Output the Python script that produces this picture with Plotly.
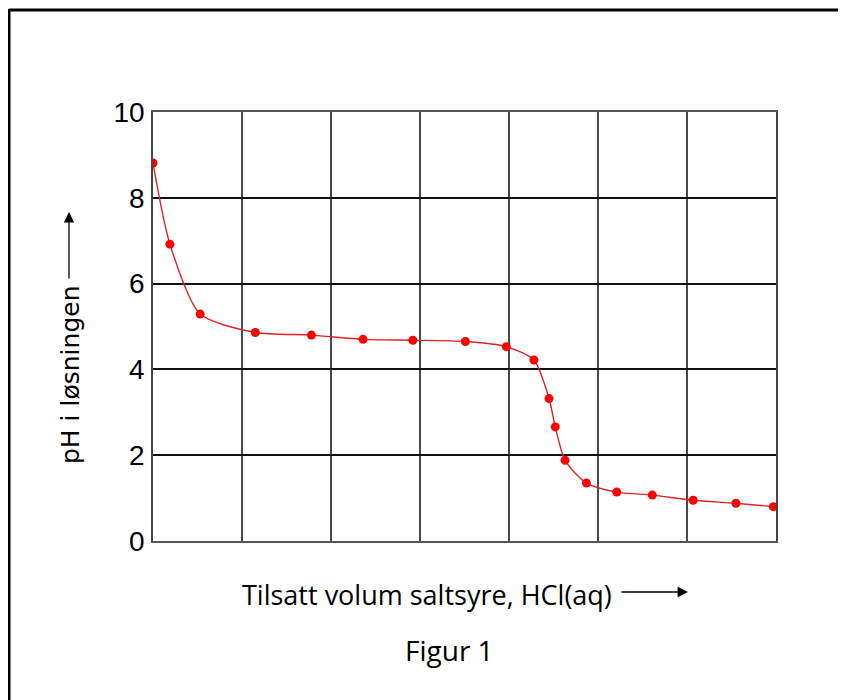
import plotly.graph_objects as go

# Data (x in grid units of added HCl volume, pH)
volum = [0.0, 0.19, 0.53, 1.15, 1.78, 2.36, 2.92, 3.51, 3.97, 4.28,
         4.45, 4.52, 4.63, 4.87, 5.21, 5.61, 6.07, 6.55, 6.97]
ph = [8.81, 6.92, 5.29, 4.86, 4.80, 4.70, 4.68, 4.65, 4.53, 4.22,
      3.32, 2.66, 1.88, 1.35, 1.14, 1.07, 0.95, 0.88, 0.80]
y_ticks = [0, 2, 4, 6, 8, 10]

OFF = 8  # page body margin
W, H = 846 - OFF, 700 - OFF
# plot area in page pixels: x 153..776, y 112..541
L, T = 153 - OFF, 112 - OFF
R = W - (776 - OFF)
B = H - (541 - OFF)
PW, PH = W - L - R, H - T - B


def px(xp):
    return (xp - OFF - L) / PW


def py(yp):
    return (H - B - (yp - OFF)) / PH


fig = go.Figure()
fig.add_trace(go.Scatter(
    x=volum, y=ph, mode="lines",
    line=dict(color="#dc2424", width=1.4, shape="spline", smoothing=0.7),
    hoverinfo="skip", showlegend=False))
fig.add_trace(go.Scatter(
    x=volum, y=ph, mode="markers",
    marker=dict(color="#ff0000", size=9),
    showlegend=False))

fig.update_layout(
    width=W, height=H,
    margin=dict(l=L, r=R, t=T, b=B),
    paper_bgcolor="white", plot_bgcolor="white",
    xaxis=dict(range=[0, 7], dtick=1, tick0=0, showticklabels=False,
               showgrid=True, gridcolor="#4a4a4a", gridwidth=1.6,
               zeroline=False, showline=True, mirror=True,
               linecolor="#555555", linewidth=1.6, ticks=""),
    yaxis=dict(range=[0, 10], tickvals=y_ticks, showgrid=True,
               gridcolor="#111111", gridwidth=1.5, zeroline=False,
               showline=True, mirror=True, linecolor="#444444",
               linewidth=1.6, ticks="", ticklabelstandoff=1,
               tickfont=dict(family="Liberation Sans", size=28, color="black")),
    font=dict(family="Open Sans", color="black"),
)

# outer frame (top and left edges)
fig.add_shape(type="line", xref="paper", yref="paper",
              x0=px(9), x1=px(860), y0=py(10), y1=py(10),
              line=dict(color="black", width=3))
fig.add_shape(type="line", xref="paper", yref="paper",
              x0=px(9), x1=px(9), y0=py(9), y1=py(720),
              line=dict(color="black", width=3))

# x title + arrow
fig.add_annotation(xref="paper", yref="paper", x=px(427), y=py(594),
                   text="Tilsatt volum saltsyre, HCl(aq)", showarrow=False,
                   xanchor="center", yanchor="middle",
                   font=dict(family="Open Sans", size=27, color="black"))
fig.add_annotation(xref="paper", yref="paper", x=px(688), y=py(592),
                   ax=-68, ay=0, text="", showarrow=True,
                   arrowhead=2, arrowsize=1.6, arrowwidth=1.3,
                   arrowcolor="black")

# y title + arrow
fig.add_annotation(xref="paper", yref="paper", x=px(70), y=py(375),
                   text="pH i løsningen", showarrow=False, textangle=-90,
                   xanchor="center", yanchor="middle",
                   font=dict(family="DejaVu Sans", size=25, color="black"))
fig.add_annotation(xref="paper", yref="paper", x=px(69), y=py(212),
                   ax=0, ay=68, text="", showarrow=True,
                   arrowhead=2, arrowsize=1.6, arrowwidth=1.3,
                   arrowcolor="black")

# figure caption
fig.add_annotation(xref="paper", yref="paper", x=px(449), y=py(650),
                   text="Figur 1", showarrow=False,
                   xanchor="center", yanchor="middle",
                   font=dict(family="Open Sans", size=28, color="black"))

fig.write_html("out.html")
